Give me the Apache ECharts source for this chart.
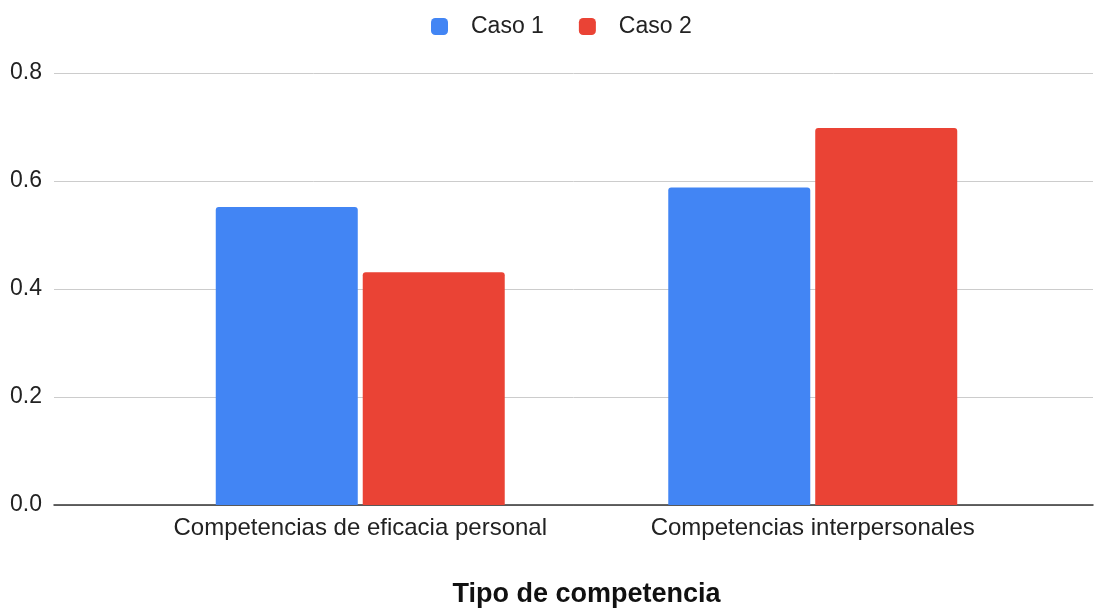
<!DOCTYPE html>
<html>
<head>
<meta charset="utf-8">
<script src="https://cdn.jsdelivr.net/npm/echarts@6/dist/echarts.min.js"></script>
<style>
  html, body { margin: 0; padding: 0; background: #fff; }
  #chart { width: 1109px; height: 610px; }
</style>
</head>
<body>
<div id="chart"></div>
<script>
// Competency categories and the two case scores
const categories = ['Competencias de eficacia personal', 'Competencias interpersonales'];
const caso1 = [0.552, 0.588];
const caso2 = [0.431, 0.698];
const seriesNames = ['Caso 1', 'Caso 2'];
const yTicks = [0, 0.2, 0.4, 0.6, 0.8];
const axisTitle = 'Tipo de competencia';

const FONT = 'Liberation Sans, Arial, sans-serif';
const chart = echarts.init(document.getElementById('chart'));

chart.setOption({
  animation: false,
  color: ['#4285F4', '#EA4335'],
  legend: {
    top: 15,
    left: 431,
    padding: 0,
    itemWidth: 17,
    itemHeight: 17,
    itemGap: 35,
    icon: 'roundRect',
    data: seriesNames,
    textStyle: { fontFamily: FONT, fontSize: 23, color: '#222', padding: [0, 0, 0, 18] }
  },
  grid: [
    // full-width grid carrying the value axis and gridlines
    { left: 54, right: 16, top: 73, bottom: 105, outerBoundsMode: 'none', containLabel: false },
    // inner grid holding the bars
    { left: 134, right: 70, top: 73, bottom: 105, outerBoundsMode: 'none', containLabel: false }
  ],
  xAxis: [
    {
      gridIndex: 0, type: 'category', data: [''],
      axisLine: { show: true, lineStyle: { color: '#333', width: 1.5 } },
      axisTick: { show: false }, axisLabel: { show: false }
    },
    {
      gridIndex: 1, type: 'category', data: categories,
      axisLine: { show: false }, axisTick: { show: false },
      axisLabel: { fontFamily: FONT, fontSize: 24, color: '#222', margin: 11, interval: 0 },
      name: axisTitle, nameLocation: 'middle', nameGap: 76,
      nameTextStyle: { fontFamily: FONT, fontSize: 27, fontWeight: 'bold', color: '#111' }
    }
  ],
  yAxis: [
    {
      gridIndex: 0, type: 'value', min: 0, max: 0.8, interval: 0.2,
      axisLine: { show: false }, axisTick: { show: false },
      axisLabel: {
        fontFamily: FONT, fontSize: 23, color: '#222', margin: 12,
        formatter: v => yTicks.find(t => Math.abs(t - v) < 1e-9).toFixed(1)
      },
      splitLine: { lineStyle: { color: '#ccc', width: 1 } }
    },
    {
      gridIndex: 1, type: 'value', min: 0, max: 0.8, interval: 0.2, show: false,
      splitLine: { show: false }
    }
  ],
  series: [
    {
      name: seriesNames[0], type: 'bar', xAxisIndex: 1, yAxisIndex: 1,
      data: caso1, barWidth: 142, barGap: '3.5%',
      itemStyle: { borderRadius: [3, 3, 0, 0] }
    },
    {
      name: seriesNames[1], type: 'bar', xAxisIndex: 1, yAxisIndex: 1,
      data: caso2, barWidth: 142, barGap: '3.5%',
      itemStyle: { borderRadius: [3, 3, 0, 0] }
    }
  ]
});
</script>
</body>
</html>
